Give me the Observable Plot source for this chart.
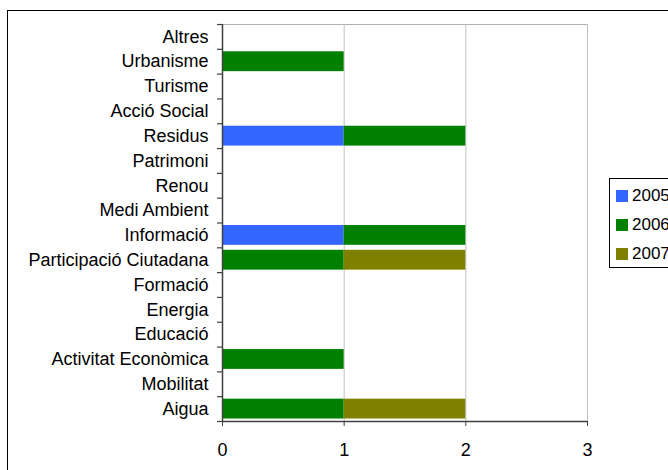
<!DOCTYPE html>
<html><head><meta charset="utf-8">
<script src="https://cdn.jsdelivr.net/npm/d3@7"></script>
<script src="https://cdn.jsdelivr.net/npm/@observablehq/plot@0.6"></script>
<style>
html,body{margin:0;padding:0;width:668px;height:470px;overflow:hidden;background:#fff;font-family:"Liberation Sans",Arial,sans-serif;}
#frame{position:absolute;left:7px;top:10px;width:800px;height:600px;border:1px solid #000;}
#chart{position:absolute;left:0;top:0;}
#legend{position:absolute;left:609px;top:178px;width:100px;height:88px;border:1px solid #000;background:#fff;}
.row{position:absolute;left:6px;height:20px;font-size:17px;line-height:20px;white-space:nowrap;}
.sw{display:inline-block;width:12px;height:12px;vertical-align:middle;margin-right:4px;position:relative;top:-1px;}
</style></head>
<body>
<div id="frame"></div>
<div id="chart"></div>
<div id="legend"></div>
<script>
const categories = ["Altres","Urbanisme","Turisme","Acció Social","Residus","Patrimoni","Renou","Medi Ambient","Informació","Participació Ciutadana","Formació","Energia","Educació","Activitat Econòmica","Mobilitat","Aigua"];
const years = ["2005","2006","2007"];
const colors = ["#3366FF","#008000","#808000"];
const v2005 = [0,0,0,0,1,0,0,0,1,0,0,0,0,0,0,0];
const v2006 = [0,1,0,0,1,0,0,0,1,1,0,0,0,1,0,1];
const v2007 = [0,0,0,0,0,0,0,0,0,1,0,0,0,0,0,1];
const xTicks = [0,1,2,3];

const series = [v2005, v2006, v2007];
const data = [];
years.forEach((yr, j) => categories.forEach((c, i) => data.push({cat: c, year: yr, value: series[j][i]})));

const W = 668, H = 470, mL = 222, mR = 81, mT = 24, mB = 49;
const step = (H - mT - mB) / categories.length;
const tickLen = 5 / ((W - mL - mR) / 3);
const fs = 18;
const last = categories[categories.length - 1];

const plot = Plot.plot({
  width: W, height: H,
  marginLeft: mL, marginRight: mR, marginTop: mT, marginBottom: mB,
  style: {background: "transparent", fontFamily: "'Liberation Sans', Arial, sans-serif", fontSize: fs + "px", color: "#000"},
  x: {domain: [0, 3], ticks: xTicks},
  y: {domain: categories, paddingInner: 0.2, paddingOuter: 0.1, round: false},
  color: {domain: years, range: colors},
  marks: [
    Plot.frame({stroke: "#b0b0b0"}),
    Plot.gridX(xTicks.slice(1), {stroke: "#c0c0c0", strokeOpacity: 1}),
    Plot.barX(data, Plot.stackX({y: "cat", x: "value", fill: "year", order: years})),
    Plot.ruleX([0], {stroke: "#404040", strokeWidth: 1.5}),
    Plot.ruleY([last], {x1: 0, x2: 3, stroke: "#404040", strokeWidth: 1.5, dy: step / 2}),
    Plot.ruleY(categories, {x1: -tickLen, x2: 0, stroke: "#404040", strokeWidth: 1.2, dy: -step / 2}),
    Plot.ruleY([last], {x1: -tickLen, x2: 0, stroke: "#404040", strokeWidth: 1.2, dy: step / 2}),
    Plot.axisY({tickSize: 0, tickPadding: 14, fontSize: fs, label: null}),
    Plot.axisX({ticks: xTicks, tickFormat: d3.format("d"), tickSize: 5, tickPadding: 17, fontSize: fs, label: null, stroke: "#404040"})
  ]
});
document.getElementById("chart").appendChild(plot);

const leg = document.getElementById("legend");
years.forEach((yr, j) => {
  const r = document.createElement("div");
  r.className = "row";
  r.style.top = (7 + j * 29) + "px";
  r.innerHTML = `<span class="sw" style="background:${colors[j]}"></span>${yr}`;
  leg.appendChild(r);
});
</script>
</body></html>
